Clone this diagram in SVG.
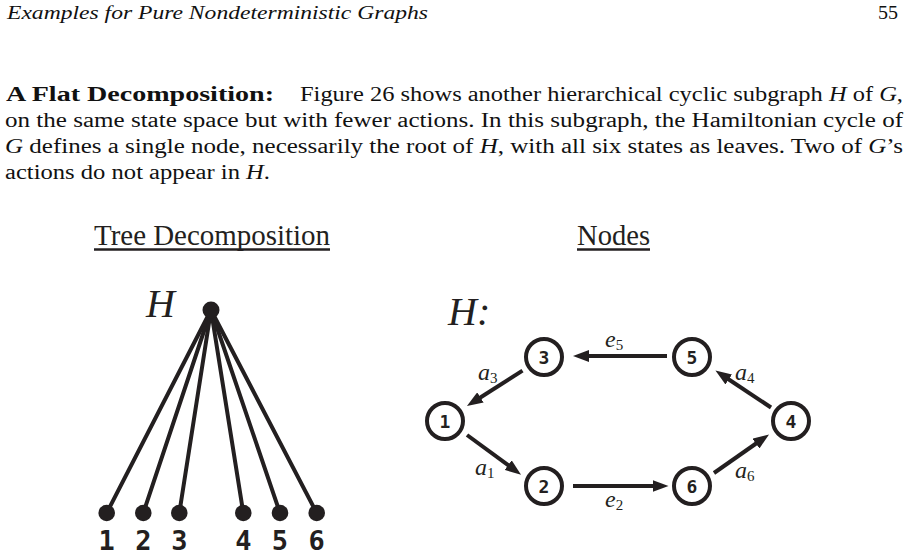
<svg xmlns="http://www.w3.org/2000/svg" width="906" height="559" viewBox="0 0 906 559">
<style>
.txt{font-family:"Liberation Serif","Times New Roman",serif;fill:#111;}
.it{font-style:italic;}
.bd{font-weight:bold;}
.head{font-family:"Liberation Serif","Times New Roman",serif;font-size:28.5px;fill:#231f20;}
.ul{stroke:#231f20;stroke-width:2.5;}
.edge{stroke:#231f20;stroke-width:4;fill:none;}
.tree{stroke:#231f20;stroke-width:4;stroke-linecap:round;}
.dot{fill:#231f20;}
.node{fill:#fff;stroke:#231f20;stroke-width:4;}
.nlab{font-family:"DejaVu Sans Mono","Liberation Mono",monospace;font-weight:bold;font-size:18px;fill:#231f20;text-anchor:middle;}
.leaf{font-family:"DejaVu Sans Mono","Liberation Mono",monospace;font-weight:bold;font-size:27px;fill:#231f20;text-anchor:middle;}
.big{font-family:"Liberation Serif","Times New Roman",serif;font-style:italic;font-size:40px;fill:#231f20;}
.elab{font-family:"Liberation Serif","Times New Roman",serif;font-style:italic;font-size:24px;fill:#231f20;}
.sub{font-style:normal;font-size:15px;}
</style>
<defs>
<marker id="ah" viewBox="0 0 16 12" refX="8" refY="6" markerWidth="16" markerHeight="12" markerUnits="userSpaceOnUse" orient="auto">
<path d="M0,0 L16,6 L0,12 z" fill="#231f20"/>
</marker>
</defs>

<g id="page-text">
<text class="txt it" x="7" y="19" font-size="18" textLength="421" lengthAdjust="spacingAndGlyphs">Examples for Pure Nondeterministic Graphs</text>
<text class="txt" x="878" y="19" font-size="18" textLength="20" lengthAdjust="spacingAndGlyphs">55</text>
<text class="txt bd" x="6" y="101" font-size="20" textLength="268" lengthAdjust="spacingAndGlyphs">A Flat Decomposition:</text>
<text class="txt" x="300" y="101" font-size="20" textLength="603" lengthAdjust="spacingAndGlyphs">Figure 26 shows another hierarchical cyclic subgraph <tspan class="it">H</tspan> of <tspan class="it">G</tspan>,</text>
<text class="txt" x="5" y="127" font-size="20" textLength="898" lengthAdjust="spacingAndGlyphs">on the same state space but with fewer actions. In this subgraph, the Hamiltonian cycle of</text>
<text class="txt" x="5" y="153" font-size="20" textLength="898" lengthAdjust="spacingAndGlyphs"><tspan class="it">G</tspan> defines a single node, necessarily the root of <tspan class="it">H</tspan>, with all six states as leaves. Two of <tspan class="it">G</tspan>’s</text>
<text class="txt" x="5" y="179" font-size="20" textLength="265" lengthAdjust="spacingAndGlyphs">actions do not appear in <tspan class="it">H</tspan>.</text>
</g>

<g id="headings">
<text class="head" x="94" y="245" textLength="236" lengthAdjust="spacingAndGlyphs">Tree Decomposition</text>
<line class="ul" x1="94" y1="249.5" x2="330" y2="249.5"/>
<text class="head" x="577" y="245" textLength="73" lengthAdjust="spacingAndGlyphs">Nodes</text>
<line class="ul" x1="577" y1="249.5" x2="650" y2="249.5"/>
</g>

<g id="tree">
<g id="tree-edges">
<line class="tree" x1="211" y1="310" x2="106.7" y2="513"/>
<line class="tree" x1="211" y1="310" x2="143.3" y2="513"/>
<line class="tree" x1="211" y1="310" x2="179.3" y2="513"/>
<line class="tree" x1="211" y1="310" x2="243.3" y2="513"/>
<line class="tree" x1="211" y1="310" x2="280" y2="513"/>
<line class="tree" x1="211" y1="310" x2="316.7" y2="513"/>
</g>
<g id="tree-root"><circle class="dot" cx="211" cy="310" r="8.5"/><text class="big" x="146" y="317">H</text></g>
<g id="leaf-1"><circle class="dot" cx="106.7" cy="513" r="8.3"/><text class="leaf" x="106.7" y="550">1</text></g>
<g id="leaf-2"><circle class="dot" cx="143.3" cy="513" r="8.3"/><text class="leaf" x="143.3" y="550">2</text></g>
<g id="leaf-3"><circle class="dot" cx="179.3" cy="513" r="8.3"/><text class="leaf" x="179.3" y="550">3</text></g>
<g id="leaf-4"><circle class="dot" cx="243.3" cy="513" r="8.3"/><text class="leaf" x="243.3" y="550">4</text></g>
<g id="leaf-5"><circle class="dot" cx="280" cy="513" r="8.3"/><text class="leaf" x="280" y="550">5</text></g>
<g id="leaf-6"><circle class="dot" cx="316.7" cy="513" r="8.3"/><text class="leaf" x="316.7" y="550">6</text></g>
</g>

<g id="graph-title"><text class="big" x="448" y="325">H:</text></g>

<g id="connectors">
<line class="edge" x1="522.5" y1="370.6" x2="473.7" y2="401.7" marker-end="url(#ah)"/>
<line class="edge" x1="467" y1="435" x2="514.6" y2="469.9" marker-end="url(#ah)"/>
<line class="edge" x1="573" y1="486" x2="660.5" y2="486" marker-end="url(#ah)"/>
<line class="edge" x1="714" y1="473" x2="762.5" y2="439" marker-end="url(#ah)"/>
<line class="edge" x1="771" y1="407.5" x2="722.1" y2="375" marker-end="url(#ah)"/>
<line class="edge" x1="667" y1="356" x2="581" y2="356" marker-end="url(#ah)"/>
<text class="elab" x="478" y="380">a<tspan class="sub" dy="3">3</tspan></text>
<text class="elab" x="475" y="475">a<tspan class="sub" dy="3">1</tspan></text>
<text class="elab" x="605" y="347">e<tspan class="sub" dy="3">5</tspan></text>
<text class="elab" x="605" y="507">e<tspan class="sub" dy="3">2</tspan></text>
<text class="elab" x="735" y="380">a<tspan class="sub" dy="3">4</tspan></text>
<text class="elab" x="735" y="478">a<tspan class="sub" dy="3">6</tspan></text>
</g>

<g id="node-1"><circle class="node" cx="445" cy="421" r="18"/><text class="nlab" x="445" y="427.5">1</text></g>
<g id="node-2"><circle class="node" cx="544" cy="486" r="18"/><text class="nlab" x="544" y="492.5">2</text></g>
<g id="node-3"><circle class="node" cx="544" cy="357" r="18"/><text class="nlab" x="544" y="363.5">3</text></g>
<g id="node-4"><circle class="node" cx="791" cy="421" r="18"/><text class="nlab" x="791" y="427.5">4</text></g>
<g id="node-5"><circle class="node" cx="692" cy="357" r="18"/><text class="nlab" x="692" y="363.5">5</text></g>
<g id="node-6"><circle class="node" cx="692" cy="486" r="18"/><text class="nlab" x="692" y="492.5">6</text></g>
</svg>
